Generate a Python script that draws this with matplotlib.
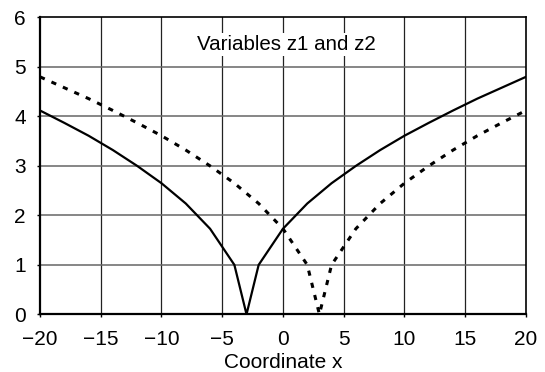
import numpy as np
from matplotlib import pyplot as plt

plt.rcParams['font.family'] = ['Liberation Sans', 'DejaVu Sans']

# solid curve (z1)
x_z1 = [-20, -18, -16, -14, -12, -10, -8, -6, -4, -3, -2, 0, 2, 4, 6, 8, 10, 12, 14, 16, 18, 20]
z1 = [4.12, 3.87, 3.61, 3.32, 3.00, 2.65, 2.24, 1.73, 1.00, 0.00, 1.00, 1.73, 2.24,
      2.65, 3.00, 3.32, 3.61, 3.87, 4.12, 4.36, 4.58, 4.80]

# dotted curve (z2)
x_z2 = [-20, -18, -16, -14, -12, -10, -8, -6, -4, -2, 0, 2, 3, 4, 6, 8, 10, 12, 14, 16, 18, 20]
z2 = [4.80, 4.58, 4.36, 4.12, 3.87, 3.61, 3.32, 3.00, 2.65, 2.24, 1.73, 1.00, 0.00,
      1.00, 1.73, 2.24, 2.65, 3.00, 3.32, 3.61, 3.87, 4.12]

x_ticks = [-20, -15, -10, -5, 0, 5, 10, 15, 20]
x_labels = ['\u221220', '\u221215', '\u221210', '\u22125', '0', '5', '10', '15', '20']
y_ticks = [0, 1, 2, 3, 4, 5, 6]

fig = plt.figure(figsize=(5.45, 3.72), dpi=100)
ax = fig.add_axes([0.0734, 0.155, 0.8916, 0.798])

# grid
for xv in x_ticks[1:-1]:
    ax.axvline(xv, color='#222222', lw=0.9, zorder=1)
for yv in y_ticks[1:-1]:
    ax.axhline(yv, color='#666666', lw=1.1, zorder=1)
ax.axhline(0, color='black', lw=2.0, zorder=4)

ax.plot(x_z1, z1, color='black', lw=1.6, zorder=3)
ax.plot(x_z2, z2, color='black', lw=2.2, linestyle=(0, (1.7, 2.4)), zorder=3)

ax.text(0.3, 5.46, 'Variables z1 and z2', fontsize=14.8, ha='center', va='center',
        zorder=5, bbox=dict(facecolor='white', edgecolor='none', pad=1.5))

ax.set_xlim(-20, 20)
ax.set_ylim(0, 6)
ax.set_xticks(x_ticks)
ax.set_xticklabels(x_labels)
ax.set_yticks(y_ticks)
ax.tick_params(direction='out', length=2.2, width=1, labelsize=15)
ax.tick_params(axis='x', pad=9)
ax.tick_params(axis='y', pad=8)
ax.set_xlabel('Coordinate x', fontsize=15, labelpad=3)

ax.spines['left'].set_linewidth(1.6)
ax.spines['right'].set_linewidth(1.2)
ax.spines['top'].set_linewidth(1.2)
ax.spines['bottom'].set_linewidth(1.6)

plt.savefig('out.png', dpi=100)
